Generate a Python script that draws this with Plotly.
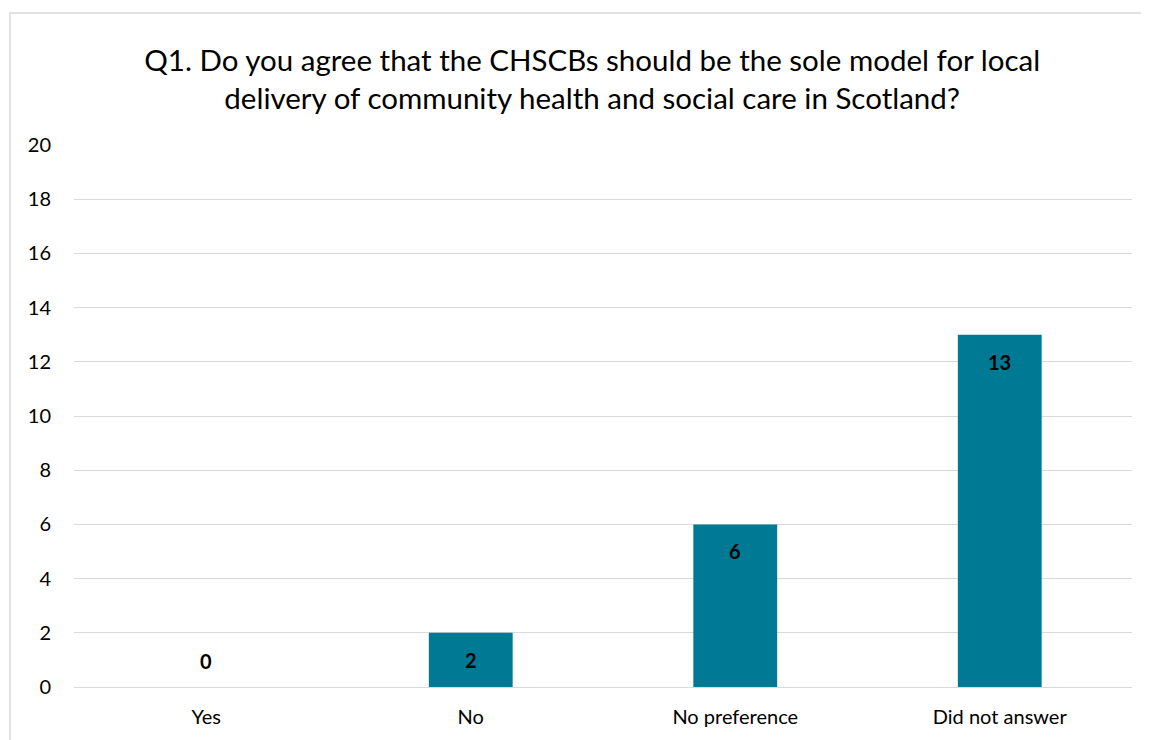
import plotly.graph_objects as go

categories = ["Yes", "No", "No preference", "Did not answer"]
values = [0, 2, 6, 13]
y_ticks = [0, 2, 4, 6, 8, 10, 12, 14, 16, 18, 20]
title_text = ("Q1. Do you agree that the CHSCBs should be the sole model for local<br>"
              "delivery of community health and social care in Scotland?")

FONT = "Lato, Open Sans, sans-serif"
BAR_COLOR = "#007A94"

W, H = 1141, 732
ML, MR, MT, MB = 66, 17, 137, 53
PW, PH = W - ML - MR, H - MT - MB

fig = go.Figure()
fig.add_trace(go.Bar(
    x=categories, y=values, width=0.317,
    marker=dict(color=BAR_COLOR, line=dict(width=0)),
    hoverinfo="x+y",
))

for c, v in zip(categories, values):
    fig.add_annotation(
        x=c, y=v, text=f"<b>{v}</b>", showarrow=False,
        yanchor="middle", yshift=(-27 if v > 0 else 26),
        font=dict(family=FONT, size=20, color="#000000"),
    )

fig.update_layout(
    width=W, height=H,
    margin=dict(l=ML, r=MR, t=MT, b=MB),
    paper_bgcolor="white", plot_bgcolor="white",
    showlegend=False,
    title=dict(text=title_text, x=0.512, xanchor="center", y=0.914, yanchor="middle",
               font=dict(family=FONT, size=29.5, color="#000000")),
    font=dict(family=FONT, size=20, color="#000000"),
)
fig.update_xaxes(showgrid=False, showline=False, ticks="", ticklabelstandoff=16,
                 tickfont=dict(family=FONT, size=20, color="#000000"))
fig.update_yaxes(range=[0, 20], tickvals=y_ticks, showgrid=True, gridcolor="#D9D9D9",
                 gridwidth=1.3, zeroline=True, zerolinecolor="#D9D9D9", zerolinewidth=1.3,
                 showline=False, ticks="", ticklabelstandoff=22,
                 tickfont=dict(family=FONT, size=20, color="#000000"))

# chart area border
fig.add_shape(type="rect", xref="paper", yref="paper",
              x0=(2 - ML) / PW, x1=(W + 40 - ML) / PW,
              y0=-0.2, y1=(MT + PH - 5) / PH,
              line=dict(color="#D9D9D9", width=1.5), fillcolor="rgba(0,0,0,0)", layer="below")

fig.write_html("out.html")
